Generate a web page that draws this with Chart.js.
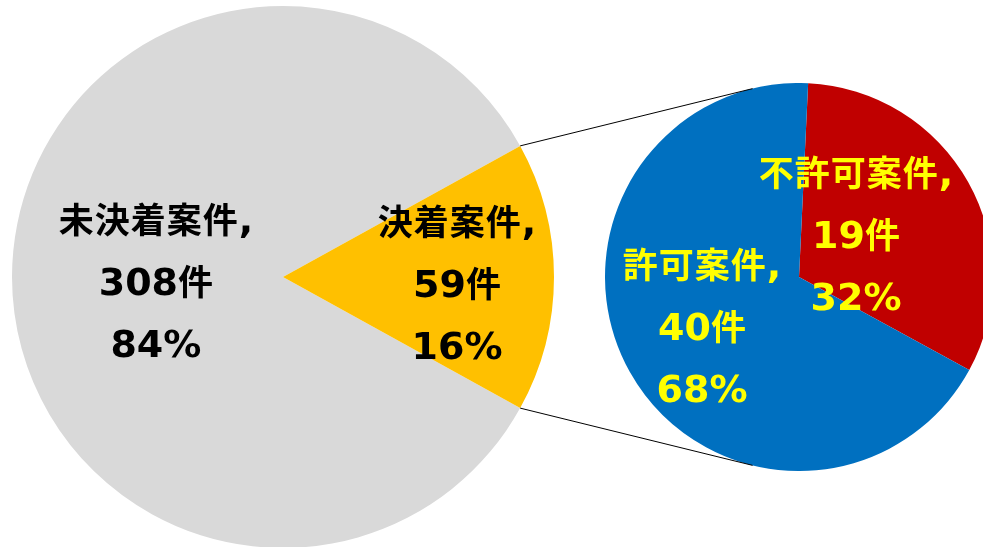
<!DOCTYPE html>
<html>
<head>
<meta charset="utf-8">
<script src="https://cdn.jsdelivr.net/npm/chart.js@4.4.0/dist/chart.umd.min.js"></script>
<style>
  html, body { margin: 0; padding: 0; background: #ffffff; overflow: hidden; width: 983px; height: 547px; }
  .wrap { position: absolute; }
  #leftWrap { left: 12px; top: 6px; width: 542px; height: 542px; }
  #rightWrap { left: 605px; top: 83px; width: 388px; height: 388px; }
  #lines { position: absolute; left: 0; top: 0; pointer-events: none; }
</style>
</head>
<body>
<div class="wrap" id="leftWrap"><canvas id="leftChart"></canvas></div>
<div class="wrap" id="rightWrap"><canvas id="rightChart"></canvas></div>
<canvas id="lines" width="983" height="547"></canvas>
<script>
// ---- data ----
const mainCategories = ['未決着案件', '決着案件'];
const mainValues = [308, 59];
const subCategories = ['不許可案件', '許可案件'];
const subValues = [19, 40];
const countUnit = '件';

// ---- styles / layout ----
const mainColors = ['#D9D9D9', '#FFC000'];
const subColors = ['#C00000', '#0070C0'];
const mainLabelColor = '#000000';
const subLabelColor = '#FFFF00';
// label anchor offsets relative to pie centre, as fraction of radius
const mainLabelOffsets = [[-0.469, 0.013], [0.642, 0.022]];
const subLabelOffsets = [[0.294, -0.222], [-0.5, 0.253]];
const cjkFont = 'bold 35px "Noto Sans CJK JP", sans-serif';
const latinFont = 'bold 38px "DejaVu Sans", sans-serif';
const cjkSpacing = 1;
const lineGap = 62;
const baselineShift = 14;

function sum(a) { return a.reduce((s, v) => s + v, 0); }

function drawMixed(ctx, text, cx, baseline) {
  const runs = text.match(/[\x00-\x7F]+|[^\x00-\x7F]+/g) || [];
  const parts = [];
  let total = 0;
  runs.forEach(run => {
    const ascii = /^[\x00-\x7F]/.test(run);
    if (ascii) {
      ctx.font = latinFont;
      const w = ctx.measureText(run).width;
      parts.push({ t: run, font: latinFont, w: w, chars: null });
      total += w;
    } else {
      ctx.font = cjkFont;
      const chars = Array.from(run).map(c => ({ c: c, w: ctx.measureText(c).width + cjkSpacing }));
      const w = chars.reduce((s, o) => s + o.w, 0);
      parts.push({ t: run, font: cjkFont, w: w, chars: chars });
      total += w;
    }
  });
  if (parts.length && parts[parts.length - 1].chars) total -= cjkSpacing;
  let x = cx - total / 2;
  parts.forEach(p => {
    ctx.font = p.font;
    if (p.chars) {
      p.chars.forEach(o => { ctx.fillText(o.c, x, baseline); x += o.w; });
    } else {
      ctx.fillText(p.t, x, baseline);
      x += p.w;
    }
  });
}

function labelPlugin(categories, values, offsets, color) {
  const total = sum(values);
  return {
    id: 'sliceLabels',
    afterDatasetsDraw(chart) {
      const ctx = chart.ctx;
      const meta = chart.getDatasetMeta(0);
      ctx.save();
      ctx.fillStyle = color;
      ctx.textAlign = 'left';
      ctx.textBaseline = 'alphabetic';
      meta.data.forEach((arc, i) => {
        const r = arc.outerRadius;
        const cx = arc.x + offsets[i][0] * r;
        const cy = arc.y + offsets[i][1] * r;
        const pct = Math.round(values[i] / total * 100);
        const lines = [categories[i] + ',', values[i] + countUnit, pct + '%'];
        lines.forEach((t, k) => {
          drawMixed(ctx, t, cx, cy + (k - 1) * lineGap + baselineShift);
        });
      });
      ctx.restore();
    }
  };
}

function pieConfig(categories, values, colors, rotation, plugin) {
  return {
    type: 'pie',
    data: {
      labels: categories,
      datasets: [{
        data: values,
        backgroundColor: colors,
        borderWidth: 0
      }]
    },
    options: {
      responsive: true,
      maintainAspectRatio: false,
      animation: false,
      rotation: rotation,
      layout: { padding: 0 },
      plugins: { legend: { display: false }, tooltip: { enabled: false } }
    },
    plugins: [plugin]
  };
}

const mainTotal = sum(mainValues);
// first slice (undecided) starts where the decided slice ends, so that the decided slice is centred on the right
const leftRot = 90 + (mainValues[1] / mainTotal) * 180;

const leftChart = new Chart(document.getElementById('leftChart'),
  pieConfig(mainCategories, mainValues, mainColors, leftRot,
    labelPlugin(mainCategories, mainValues, mainLabelOffsets, mainLabelColor)));

const rightChart = new Chart(document.getElementById('rightChart'),
  pieConfig(subCategories, subValues, subColors, 2.7,
    labelPlugin(subCategories, subValues, subLabelOffsets, subLabelColor)));

function drawConnectors() {
  const lc = document.getElementById('lines');
  const ctx = lc.getContext('2d');
  ctx.clearRect(0, 0, lc.width, lc.height);
  const lw = document.getElementById('leftWrap');
  const rw = document.getElementById('rightWrap');
  const yArc = leftChart.getDatasetMeta(0).data[1];
  const rArc = rightChart.getDatasetMeta(0).data[0];
  const ox = lw.offsetLeft, oy = lw.offsetTop;
  const C = { x: rw.offsetLeft + rArc.x, y: rw.offsetTop + rArc.y };
  const R = rArc.outerRadius;
  const pts = [yArc.startAngle, yArc.endAngle].map(a => ({
    x: ox + yArc.x + yArc.outerRadius * Math.cos(a),
    y: oy + yArc.y + yArc.outerRadius * Math.sin(a)
  }));
  ctx.strokeStyle = '#000000';
  ctx.lineWidth = 1;
  pts.forEach(P => {
    const dx = P.x - C.x, dy = P.y - C.y;
    const d = Math.hypot(dx, dy);
    const phi = Math.atan2(dy, dx);
    const alpha = Math.acos(Math.min(1, R / d));
    const t1 = { x: C.x + R * Math.cos(phi + alpha), y: C.y + R * Math.sin(phi + alpha) };
    const t2 = { x: C.x + R * Math.cos(phi - alpha), y: C.y + R * Math.sin(phi - alpha) };
    const T = (P.y < C.y) ? (t1.y < t2.y ? t1 : t2) : (t1.y > t2.y ? t1 : t2);
    ctx.beginPath();
    ctx.moveTo(P.x, P.y);
    ctx.lineTo(T.x, T.y);
    ctx.stroke();
  });
}
drawConnectors();
</script>
</body>
</html>
